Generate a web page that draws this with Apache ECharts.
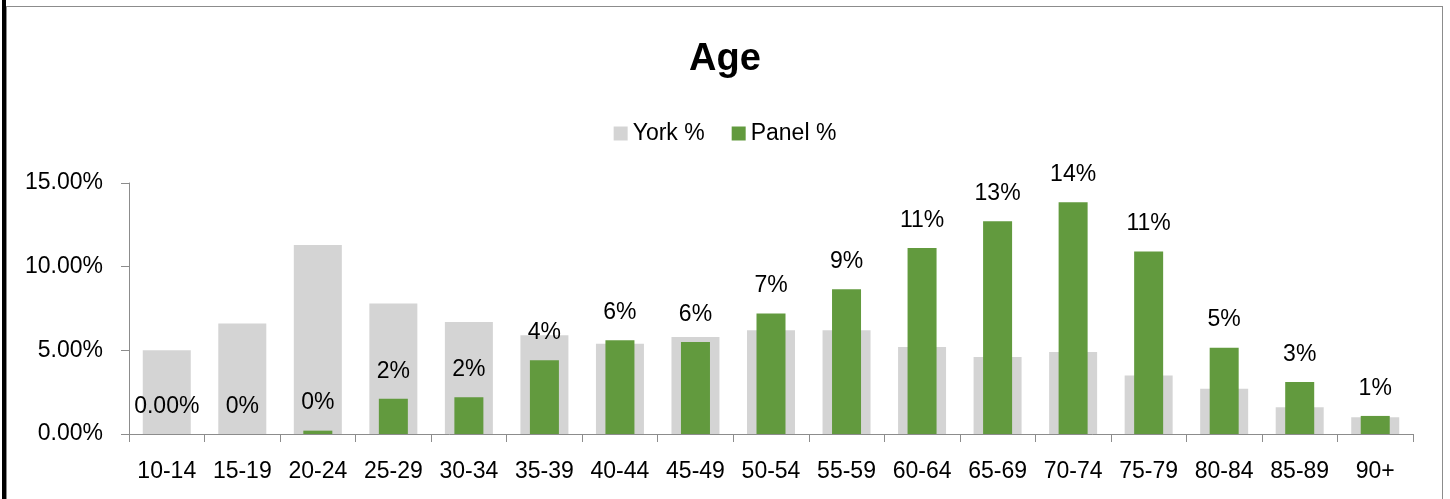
<!DOCTYPE html>
<html>
<head>
<meta charset="utf-8">
<script src="https://cdn.jsdelivr.net/npm/echarts@6/dist/echarts.min.js"></script>
<style>
  body { margin: 0; background: #fff; }
  #chart { position: absolute; left: 0; top: 0; width: 1450px; height: 499px; }
  .edge-black { position: absolute; left: 2px; top: 0; width: 4px; height: 499px; background: #000; }
  .frame { position: absolute; left: 6px; top: 6px; width: 1435px; height: 500px;
           border-top: 1px solid #8c8c8c; border-left: 1px solid #8c8c8c; border-right: 1px solid #8c8c8c; }
</style>
</head>
<body>
<div id="chart"></div>
<div class="edge-black"></div>
<div class="frame"></div>
<script>
const ageGroups = ['10-14', '15-19', '20-24', '25-29', '30-34', '35-39', '40-44', '45-49', '50-54',
  '55-59', '60-64', '65-69', '70-74', '75-79', '80-84', '85-89', '90+'];
const yorkPct = [5.0, 6.6, 11.3, 7.8, 6.7, 5.9, 5.4, 5.8, 6.2, 6.2, 5.2, 4.6, 4.9, 3.5, 2.7, 1.6, 1.0];
const panelPct = [0, 0, 0.2, 2.1, 2.2, 4.4, 5.6, 5.5, 7.2, 8.65, 11.12, 12.71, 13.85, 10.9, 5.16, 3.11, 1.08];

const font = 'Liberation Sans';
const myChart = echarts.init(document.getElementById('chart'));

const options = {
  backgroundColor: 'transparent',
  animation: false,
  textStyle: { fontFamily: font, color: '#000' },
  title: {
    text: 'Age',
    left: 'center',
    top: 36,
    textStyle: { fontFamily: font, fontSize: 38, fontWeight: 'bold', color: '#000' },
  },
  legend: {
    data: ['York %', 'Panel %'],
    top: 117,
    left: 'center',
    itemWidth: 14,
    itemHeight: 14,
    itemGap: 27,
    icon: 'rect',
    textStyle: { fontFamily: font, fontSize: 23, color: '#000' },
  },
  grid: { left: 129, right: 37, top: 183, bottom: 65 },
  xAxis: [{
    type: 'category',
    data: ageGroups,
    axisLine: { lineStyle: { color: '#8c8c8c', width: 1 } },
    axisTick: { show: true, length: 8, lineStyle: { color: '#8c8c8c' } },
    axisLabel: { fontFamily: font, fontSize: 23, color: '#000', margin: 26, interval: 0 },
  }, {
    type: 'category',
    data: ageGroups,
    show: false,
  }],
  yAxis: {
    type: 'value',
    min: 0,
    max: 15,
    interval: 5,
    axisLine: { show: true, lineStyle: { color: '#8c8c8c' } },
    axisTick: { show: true, length: 8, lineStyle: { color: '#8c8c8c' } },
    splitLine: { show: false },
    axisLabel: {
      fontFamily: font, fontSize: 23, color: '#000', margin: 26,
      formatter: v => v.toFixed(2) + '%',
    },
  },
  series: [{
    name: 'York %',
    type: 'bar',
    xAxisIndex: 0,
    barWidth: 48,
    itemStyle: { color: '#d4d4d4' },
    data: yorkPct,
  }, {
    name: 'Panel %',
    type: 'bar',
    xAxisIndex: 1,
    barWidth: 29,
    itemStyle: { color: '#629a3e' },
    label: {
      show: true,
      position: 'top',
      distance: 16,
      fontFamily: font,
      fontSize: 23,
      color: '#000',
      formatter: p => (p.dataIndex === 0 ? p.value.toFixed(2) : Math.round(p.value)) + '%',
    },
    data: panelPct,
  }],
};
myChart.setOption(options);
</script>
</body>
</html>
